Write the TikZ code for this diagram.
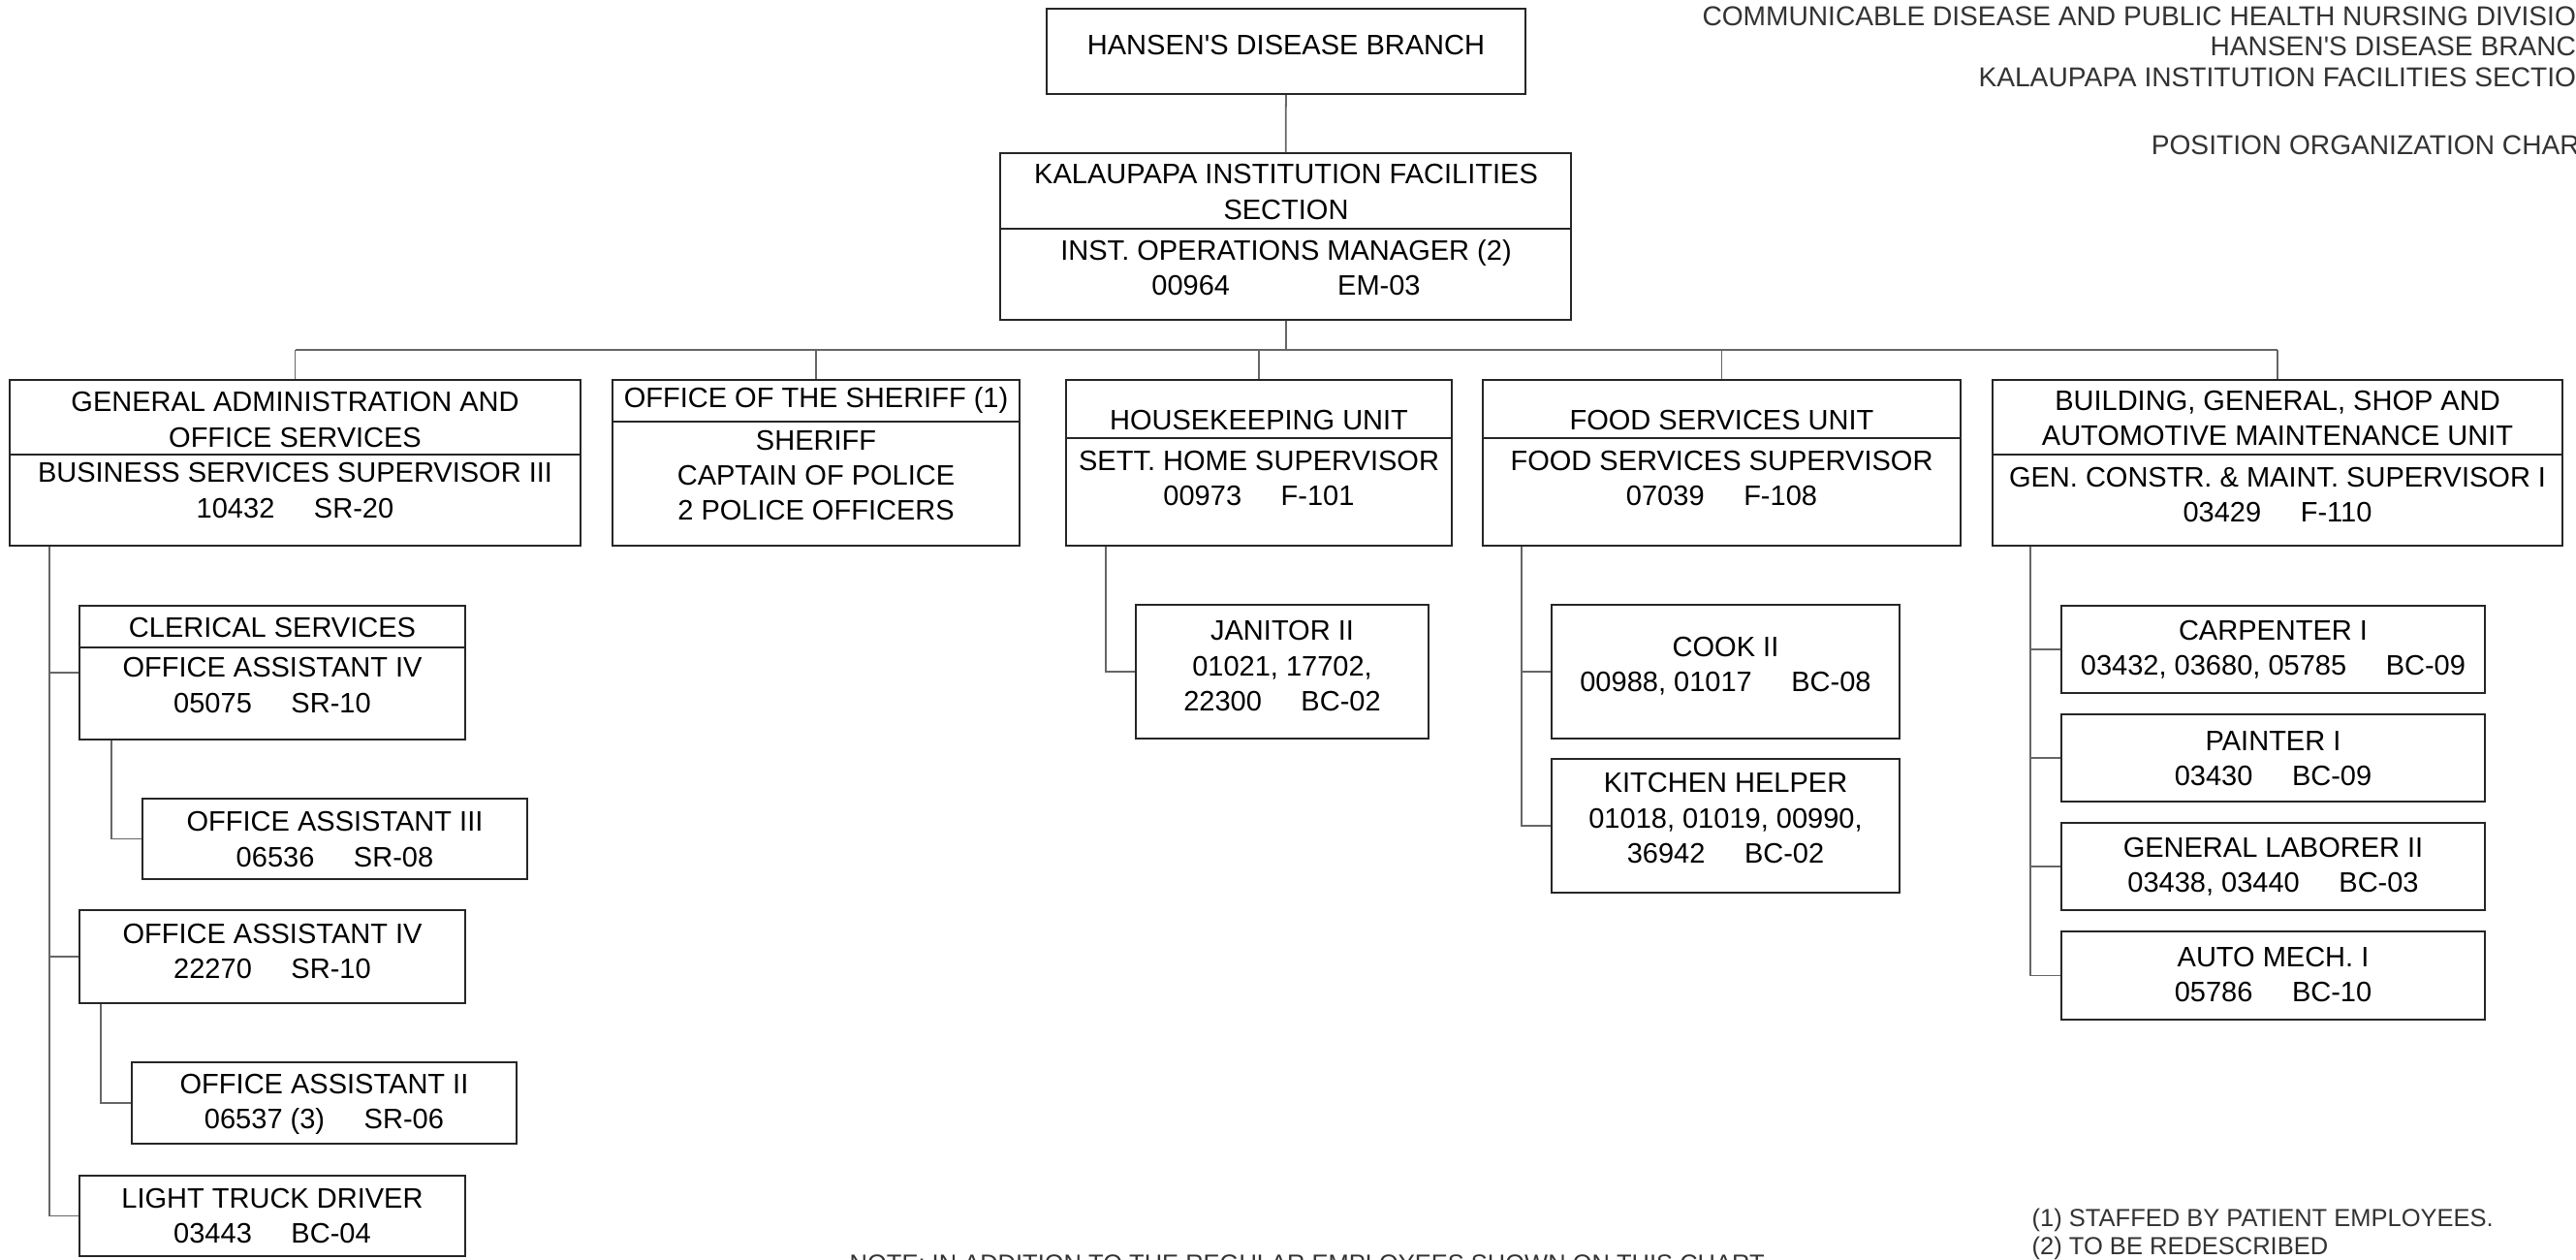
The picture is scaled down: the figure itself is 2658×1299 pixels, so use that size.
\documentclass[tikz,border=0pt]{standalone}
\usepackage{fontspec}
\setmainfont{Liberation Sans}
\usetikzlibrary{fit}

\tikzset{
    box/.style={draw=black!85, line width=0.5pt, inner sep=0pt},
    txt/.style={align=center, inner sep=0pt, font=\fontsize{8.25}{10.3}\selectfont},
    head/.style={inner sep=0pt, text=black!80, font=\fontsize{8}{10}\selectfont},
    note/.style={inner sep=0pt, text=black!80, font=\fontsize{7.25}{9}\selectfont},
    link/.style={draw=black!60, line width=0.5pt}
}
\newcommand{\codesep}{\hspace{1.4em}}

\begin{document}
\begin{tikzpicture}[x=0.01cm, y=-0.01cm]
\useasboundingbox (0,0) rectangle (2658,1299);
\clip (0,0) rectangle (2658,1299);

\node [head, anchor=east] (ttl1) at (2679,17) {COMMUNICABLE DISEASE AND PUBLIC HEALTH NURSING DIVISION};
\node [head, anchor=east] (ttl2) at (2679,48) {HANSEN\textquotesingle S DISEASE BRANCH};
\node [head, anchor=east] (ttl3) at (2679,80) {KALAUPAPA INSTITUTION FACILITIES SECTION};
\node [head, anchor=east] (ttl4) at (2679,150) {POSITION ORGANIZATION CHART};

% top
\node [box, fit={(1080,9) (1574,97)}] (hdb) {};
\node [txt] (hdb-t) at (1327,47) {HANSEN\textquotesingle S DISEASE BRANCH};

\node [box, fit={(1032,158) (1621,330)}] (kifs) {};
\draw [box] (kifs.west |- 0,236) -- (kifs.east |- 0,236);
\node [txt] (kifs-h) at (1327,198) {KALAUPAPA INSTITUTION FACILITIES\\SECTION};
\node [txt] (kifs-b) at (1327,276.5) {INST. OPERATIONS MANAGER (2)\\00964\hspace{1.11cm}EM-03};

% units
\node [box, fit={(10,392) (599,563)}] (ga) {};
\draw [box] (ga.west |- 0,469) -- (ga.east |- 0,469);
\node [txt] (ga-h) at (304.5,433) {GENERAL ADMINISTRATION AND\\OFFICE SERVICES};
\node [txt] (ga-b) at (304.5,506) {BUSINESS SERVICES SUPERVISOR III\\10432\codesep SR-20};

\node [box, fit={(632,392) (1052,563)}] (sher) {};
\draw [box] (sher.west |- 0,435) -- (sher.east |- 0,435);
\node [txt] (sher-h) at (842,413) {OFFICE OF THE SHERIFF (1)};
\node [txt] (sher-b) at (842,490.5) {SHERIFF\\CAPTAIN OF POLICE\\2 POLICE OFFICERS};

\node [box, fit={(1100,392) (1498,563)}] (hk) {};
\draw [box] (hk.west |- 0,452) -- (hk.east |- 0,452);
\node [txt] (hk-h) at (1299,433) {HOUSEKEEPING UNIT};
\node [txt] (hk-b) at (1299,493.5) {SETT. HOME SUPERVISOR\\00973\codesep F-101};

\node [box, fit={(1530,392) (2023,563)}] (food) {};
\draw [box] (food.west |- 0,452) -- (food.east |- 0,452);
\node [txt] (food-h) at (1776.5,433) {FOOD SERVICES UNIT};
\node [txt] (food-b) at (1776.5,493.5) {FOOD SERVICES SUPERVISOR\\07039\codesep F-108};

\node [box, fit={(2056,392) (2644,563)}] (bld) {};
\draw [box] (bld.west |- 0,469) -- (bld.east |- 0,469);
\node [txt] (bld-h) at (2350,431.5) {BUILDING, GENERAL, SHOP AND\\AUTOMOTIVE MAINTENANCE UNIT};
\node [txt] (bld-b) at (2350,510.5) {GEN. CONSTR. \& MAINT. SUPERVISOR I\\03429\codesep F-110};

% general administration
\node [box, fit={(82,625) (480,763)}] (cler) {};
\draw [box] (cler.west |- 0,668) -- (cler.east |- 0,668);
\node [txt] (cler-h) at (281,647) {CLERICAL SERVICES};
\node [txt] (cler-b) at (281,707) {OFFICE ASSISTANT IV\\05075\codesep SR-10};

\node [box, fit={(147,824) (544,907)}] (oa3) {};
\node [txt] (oa3-t) at (345.5,866) {OFFICE ASSISTANT III\\06536\codesep SR-08};

\node [box, fit={(82,939) (480,1035)}] (oa4) {};
\node [txt] (oa4-t) at (281,981.5) {OFFICE ASSISTANT IV\\22270\codesep SR-10};

\node [box, fit={(136,1096) (533,1180)}] (oa2) {};
\node [txt] (oa2-t) at (334.5,1139.5) {OFFICE ASSISTANT II\\06537 (3)\codesep SR-06};

\node [box, fit={(82,1213) (480,1296)}] (ltd) {};
\node [txt] (ltd-t) at (281,1254.5) {LIGHT TRUCK DRIVER\\03443\codesep BC-04};

% housekeeping and food
\node [box, fit={(1172,624) (1474,762)}] (jan) {};
\node [txt] (jan-t) at (1323,687) {JANITOR II\\01021, 17702,\\22300\codesep BC-02};

\node [box, fit={(1601,624) (1960,762)}] (cook) {};
\node [txt] (cook-t) at (1780.5,687.5) {COOK II\\00988, 01017\codesep BC-08};

\node [box, fit={(1601,783) (1960,921)}] (kh) {};
\node [txt] (kh-t) at (1780.5,844) {KITCHEN HELPER\\01018, 01019, 00990,\\36942\codesep BC-02};

% maintenance
\node [box, fit={(2127,625) (2564,715)}] (carp) {};
\node [txt] (carp-t) at (2345.5,670.5) {CARPENTER I\\03432, 03680, 05785\codesep BC-09};

\node [box, fit={(2127,737) (2564,827)}] (paint) {};
\node [txt] (paint-t) at (2345.5,782.5) {PAINTER I\\03430\codesep BC-09};

\node [box, fit={(2127,849) (2564,939)}] (gl) {};
\node [txt] (gl-t) at (2345.5,894) {GENERAL LABORER II\\03438, 03440\codesep BC-03};

\node [box, fit={(2127,961) (2564,1052)}] (auto) {};
\node [txt] (auto-t) at (2345.5,1005.5) {AUTO MECH. I\\05786\codesep BC-10};

% connectors
\coordinate (bus) at (1327,361);
\draw [link] (hdb) -- (kifs);
\draw [link] (kifs) -- (bus);
\draw [link] (ga.north |- bus) -- (bld.north |- bus);
\foreach \u in {ga,sher,hk,food,bld}
    \draw [link] (\u.north |- bus) -- (\u.north);

\draw [link] (ga.south west) ++(42,0) coordinate (gat) |- (ltd.west);
\foreach \u in {cler,oa4}
    \draw [link] (gat |- \u.west) -- (\u.west);
\draw [link] (cler.south west) ++(34,0) |- (oa3.west);
\draw [link] (oa4.south west) ++(23,0) |- (oa2.west);

\draw [link] (hk.south west) ++(42,0) |- (jan.west);
\draw [link] (food.south west) ++(41,0) coordinate (foodt) |- (kh.west);
\draw [link] (foodt |- cook.west) -- (cook.west);
\draw [link] (bld.south west) ++(40,0) coordinate (bldt) |- (auto.west);
\foreach \u in {carp,paint,gl}
    \draw [link] (bldt |- \u.west) -- (\u.west);

% notes
\node [note, anchor=base west] (fn1) at (2096,1265) {(1) STAFFED BY PATIENT EMPLOYEES.};
\node [note, anchor=base west] (fn2) at (2096,1294) {(2) TO BE REDESCRIBED};
\node [note, anchor=base west] (nt) at (876,1312) {NOTE: IN ADDITION TO THE REGULAR EMPLOYEES SHOWN ON THIS CHART,};

\end{tikzpicture}
\end{document}
